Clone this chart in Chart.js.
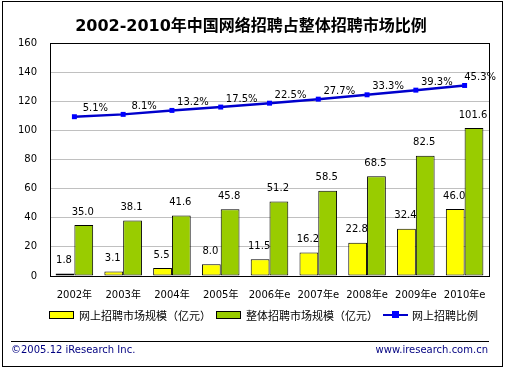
<!DOCTYPE html>
<html>
<head>
<meta charset="utf-8">
<title>2002-2010年中国网络招聘占整体招聘市场比例</title>
<script src="https://cdn.jsdelivr.net/npm/chart.js"></script>
<style>
    body { margin: 0; background: #ffffff; font-family: "DejaVu Sans", "Noto Sans CJK SC", sans-serif; }
    .frame {
        position: absolute; left: 2px; top: 1px;
        width: 499px; height: 364px;
        border: 1px solid #000;
    }
    .chart-box { position: absolute; left: 0; top: 0; width: 506px; height: 369px; }
    .title {
        position: absolute; left: 0; top: 12px; width: 502px; text-align: center;
        font-family: "DejaVu Sans", "Noto Sans CJK SC", sans-serif;
        font-size: 16px; font-weight: bold; color: #000;
    }
    .legend {
        position: absolute; top: 308px; left: 49px; height: 14px;
        font-family: "DejaVu Sans", "Noto Sans CJK SC", sans-serif; font-size: 11px; color: #000;
        display: flex; align-items: center; white-space: nowrap;
    }
    .legend .box { width: 23px; height: 6px; border: 1px solid #000; margin-right: 5px; }
    .legend .item { display: flex; align-items: center; margin-right: 5px; }
    .legend .ln { position: relative; width: 25px; height: 2px; background: #0000cc; margin-right: 4px; }
    .legend .ln span { position: absolute; left: 9px; top: -3px; width: 7px; height: 7px; background: #0000ff; }
    .rule { position: absolute; left: 11px; top: 341px; width: 478px; height: 1px; background: #000; }
    .foot {
        position: absolute; top: 344px; font-size: 10px; color: #000080;
        font-family: "DejaVu Sans", sans-serif;
    }
</style>
</head>
<body>
<div class="chart-box"><canvas id="recruitChart" width="506" height="369"></canvas></div>
<div class="frame"></div>
<div class="title">2002-2010年中国网络招聘占整体招聘市场比例</div>
<div class="legend">
    <div class="item"><div class="box" style="background:#ffff00"></div>网上招聘市场规模（亿元）</div>
    <div class="item"><div class="box" style="background:#99cc00"></div>整体招聘市场规模（亿元）</div>
    <div class="item"><div class="ln"><span></span></div>网上招聘比例</div>
</div>
<div class="rule"></div>
<div class="foot" style="left:11px">©2005.12 iResearch Inc.</div>
<div class="foot" style="right:18px">www.iresearch.com.cn</div>

<script>
    var years = ['2002年','2003年','2004年','2005年','2006年e','2007年e','2008年e','2009年e','2010年e'];
    var online_market = [1.8,3.1,5.5,8.0,11.5,16.2,22.8,32.4,46.0];
    var total_market = [35.0,38.1,41.6,45.8,51.2,58.5,68.5,82.5,101.6];
    var online_share = [5.1,8.1,13.2,17.5,22.5,27.7,33.3,39.3,45.3];
    var y_ticks = [0,20,40,60,80,100,120,140,160];

    // draws the value labels, like the original Excel style labels
    var valueLabels = {
        id: 'valueLabels',
        afterDatasetsDraw: function(chart) {
            var ctx = chart.ctx;
            ctx.save();
            ctx.font = '10px "DejaVu Sans", sans-serif';
            ctx.fillStyle = '#000';
            ctx.textBaseline = 'middle';
            chart.data.datasets.forEach(function(ds, di) {
                var meta = chart.getDatasetMeta(di);
                meta.data.forEach(function(el, i) {
                    if (ds.type === 'line') {
                        var txt = ds.data[i].toFixed(1) + '%';
                        var w = ctx.measureText(txt).width;
                        var x = el.x + 21;
                        if (x + w / 2 > 496) x = 496 - w / 2;
                        ctx.textAlign = 'center';
                        ctx.fillText(txt, x, el.y - 8);
                    } else {
                        ctx.textAlign = 'center';
                        ctx.fillText(ds.data[i].toFixed(1), el.x - 1, el.y - 13);
                    }
                });
            });
            ctx.restore();
        }
    };

    // black frame round the plot area
    var plotFrame = {
        id: 'plotFrame',
        afterDraw: function(chart) {
            var a = chart.chartArea, ctx = chart.ctx;
            ctx.save();
            ctx.strokeStyle = '#000';
            ctx.lineWidth = 1;
            ctx.strokeRect(Math.round(a.left) + 0.5, Math.round(a.top) + 0.5, Math.round(a.right - a.left), Math.round(a.bottom - a.top));
            ctx.restore();
        }
    };

    var ctx = document.getElementById('recruitChart').getContext('2d');
    new Chart(ctx, {
        type: 'bar',
        data: {
            labels: years,
            datasets: [
                {
                    type: 'line',
                    label: '网上招聘比例',
                    data: online_share,
                    yAxisID: 'y2',
                    borderColor: '#0000cc',
                    borderWidth: 2.5,
                    pointStyle: 'rect',
                    pointRadius: 3.5,
                    pointBackgroundColor: '#0000ff',
                    pointBorderColor: '#0000ff',
                    pointBorderWidth: 0,
                    fill: false,
                    tension: 0,
                    order: 0
                },
                {
                    label: '网上招聘市场规模（亿元）',
                    data: online_market,
                    backgroundColor: '#ffff00',
                    borderColor: '#000',
                    borderWidth: 1,
                    borderSkipped: false,
                    order: 1
                },
                {
                    label: '整体招聘市场规模（亿元）',
                    data: total_market,
                    backgroundColor: '#99cc00',
                    borderColor: '#000',
                    borderWidth: 1,
                    borderSkipped: false,
                    order: 1
                }
            ]
        },
        options: {
            responsive: false,
            animation: false,
            layout: { padding: { left: 0, right: 17, top: 43, bottom: 0 } },
            categoryPercentage: 0.77,
            barPercentage: 1.0,
            plugins: {
                legend: { display: false },
                title: { display: false },
                tooltip: { enabled: false }
            },
            scales: {
                x: {
                    grid: { display: false, drawTicks: false },
                    border: { display: false },
                    ticks: { color: '#000', font: { size: 10, family: '"DejaVu Sans", "Noto Sans CJK SC", sans-serif' }, padding: 13, maxRotation: 0, autoSkip: false },
                    afterFit: function(s) { s.height = 93; }
                },
                y: {
                    min: 0,
                    max: 160,
                    afterBuildTicks: function(s) { s.ticks = y_ticks.map(function(v) { return { value: v }; }); },
                    grid: { color: '#c0c0c0', lineWidth: 1, drawTicks: false },
                    border: { display: false },
                    ticks: { color: '#000', font: { size: 10, family: '"DejaVu Sans", sans-serif' }, padding: 13 },
                    afterFit: function(s) { s.width = 50; }
                },
                y2: {
                    display: false,
                    min: -200,
                    max: 100
                }
            }
        },
        plugins: [valueLabels, plotFrame]
    });
</script>
</body>
</html>
